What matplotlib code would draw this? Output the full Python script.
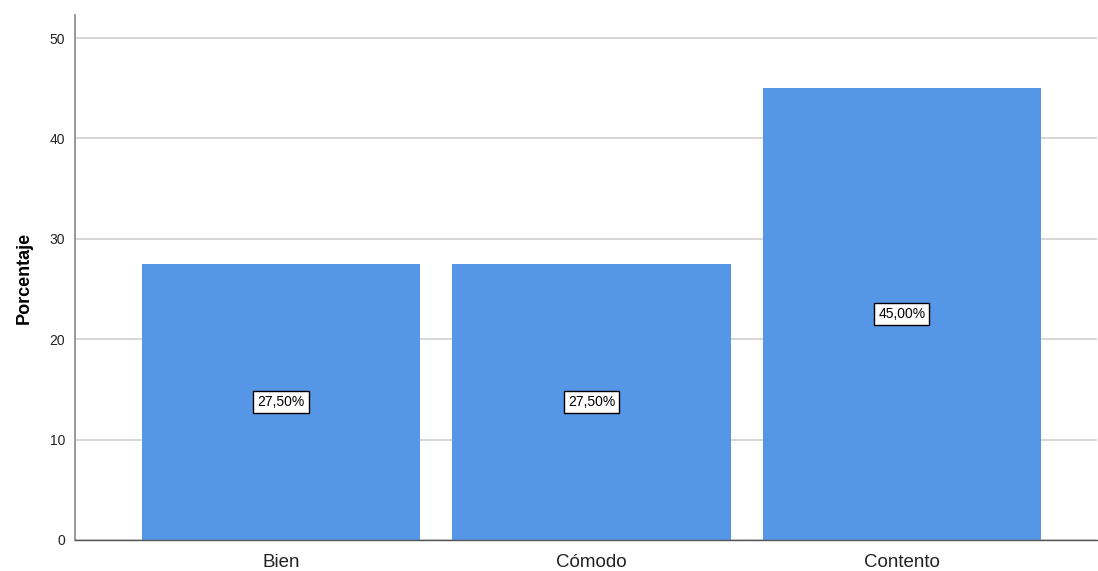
import numpy as np
import matplotlib.pyplot as plt
from matplotlib import rcParams

rcParams['font.family'] = 'sans-serif'
rcParams['font.sans-serif'] = ['Liberation Sans', 'DejaVu Sans']

# Categories and percentages
categorias = ['Bien', 'Cómodo', 'Contento']
porcentajes = [27.5, 27.5, 45.0]
yticks = [0, 10, 20, 30, 40, 50]

bar_color = '#5596e6'

fig = plt.figure(figsize=(10.98, 5.71), dpi=100, facecolor='white')
ax = fig.add_axes([0.0683, 0.0543, 0.931, 0.9194])

x = np.arange(len(categorias))
bars = ax.bar(x, porcentajes, width=0.897, color=bar_color, zorder=2)

# value labels in the middle of each bar
for xi, val in zip(x, porcentajes):
    txt = '{:.2f}%'.format(val).replace('.', ',')
    ax.text(xi, val / 2.0, txt, ha='center', va='center', fontsize=10,
            color='black', zorder=3,
            bbox=dict(boxstyle='square,pad=0.3', facecolor='white',
                      edgecolor='black', linewidth=1.0))

ax.set_xlim(-0.664, 2.63)
ax.set_ylim(0, 52.3)
ax.set_yticks(yticks)
ax.set_xticks(x)
ax.set_xticklabels(categorias, fontsize=13.5, color='#222222')
ax.tick_params(axis='y', labelsize=10, length=0, pad=7, colors='#222222')
ax.tick_params(axis='x', length=0, pad=10)

ax.yaxis.grid(True, color='#d0d0d0', linewidth=1.2, zorder=0)
ax.set_axisbelow(True)

for side in ['top', 'right']:
    ax.spines[side].set_visible(False)
ax.spines['left'].set_color('#888888')
ax.spines['bottom'].set_color('#555555')
ax.spines['left'].set_linewidth(1.2)
ax.spines['bottom'].set_linewidth(1.0)

ax.set_ylabel('Porcentaje', fontsize=13, fontweight='bold', labelpad=12)

plt.savefig('out.png', dpi=100, facecolor='white')
